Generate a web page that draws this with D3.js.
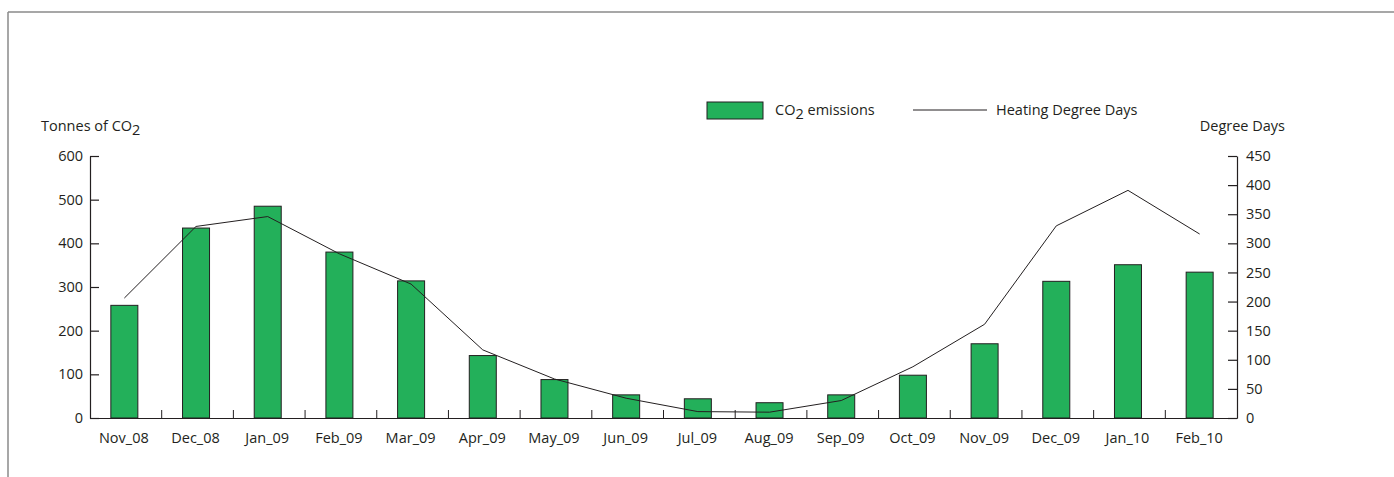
<!DOCTYPE html>
<html><head><meta charset="utf-8">
<script src="https://cdn.jsdelivr.net/npm/d3@7"></script>
<style>
html,body{margin:0;padding:0;background:#fff;}
svg text{font-family:"Open Sans",sans-serif;fill:#231f20;}
</style></head>
<body>
<svg id="chart" width="1394" height="477"></svg>
<script>
const categories = ["Nov_08","Dec_08","Jan_09","Feb_09","Mar_09","Apr_09","May_09","Jun_09","Jul_09","Aug_09","Sep_09","Oct_09","Nov_09","Dec_09","Jan_10","Feb_10"];
const co2Emissions = [258,435,485,380,314,143,88,53,44,35,53,98,170,313,351,334];
const degreeDays = [206,329,346,282,230,117,67,34,11,10,30,88,161,330,391,316];
const leftTicks = [0,100,200,300,400,500,600];
const rightTicks = [0,50,100,150,200,250,300,350,400,450];

(function(){
const svg = d3.select("#chart");
const ink = "#231f20";
const frame = "#8a8a8a";
const fs = 14.5;

// outer frame (top and left edges)
svg.append("line").attr("x1",8).attr("x2",1394).attr("y1",12).attr("y2",12).attr("stroke",frame).attr("stroke-width",1.5);
svg.append("line").attr("x1",8).attr("x2",8).attr("y1",12).attr("y2",477).attr("stroke",frame).attr("stroke-width",1.5);

const pL = 90, pR = 1237, pT = 156, pB = 418;
const x = d3.scaleBand().domain(categories).range([pL,pR]).paddingInner(0).paddingOuter(0);
const yL = d3.scaleLinear().domain([0,600]).range([pB,pT]);
const yR = d3.scaleLinear().domain([0,450]).range([pB,pT]);
const barW = 27;
const cx = d => x(d) + x.bandwidth()/2 - 1.5;

// bars
svg.append("g").selectAll("rect").data(categories).join("rect")
  .attr("x", d => cx(d) - barW/2)
  .attr("y", (d,i) => yL(co2Emissions[i]))
  .attr("width", barW)
  .attr("height", (d,i) => pB - yL(co2Emissions[i]))
  .attr("fill","#23b05a").attr("stroke",ink).attr("stroke-width",1);

// line
const line = d3.line().x(d => cx(d.c)).y(d => yR(d.v));
svg.append("path")
  .datum(categories.map((c,i)=>({c, v: degreeDays[i]})))
  .attr("d", line).attr("fill","none").attr("stroke",ink).attr("stroke-width",1);

// left axis
const gL = svg.append("g").attr("transform",`translate(${pL},0)`)
  .call(d3.axisLeft(yL).tickValues(leftTicks).tickSize(-9).tickPadding(7).tickSizeOuter(0));

// right axis
const gR = svg.append("g").attr("transform",`translate(${pR},0)`)
  .call(d3.axisRight(yR).tickValues(rightTicks).tickSize(-9).tickPadding(9).tickSizeOuter(0));

// bottom axis
const gB = svg.append("g").attr("transform",`translate(0,${pB})`)
  .call(d3.axisBottom(x).tickSize(0).tickPadding(14.5).tickSizeOuter(0));
gB.selectAll("text").attr("dx",-2);

// category boundary ticks pointing up
svg.append("g").selectAll("line").data(categories.slice(1)).join("line")
  .attr("x1", d => x(d)).attr("x2", d => x(d))
  .attr("y1", pB).attr("y2", pB - 8)
  .attr("stroke", ink).attr("stroke-width",1);

[gL,gR,gB].forEach(g => {
  g.attr("font-family","Open Sans").attr("font-size",fs);
  g.selectAll("text").attr("fill",ink);
  g.selectAll(".domain, .tick line").attr("stroke", ink).attr("stroke-width",1.2);
});

// axis titles
const tl = svg.append("text").attr("x",41).attr("y",131).attr("font-size",fs);
tl.append("tspan").text("Tonnes of CO");
tl.append("tspan").text("2").attr("dy",4);
svg.append("text").attr("x",1285).attr("y",131).attr("font-size",fs).attr("text-anchor","end").text("Degree Days");

// legend
svg.append("rect").attr("x",707).attr("y",102).attr("width",56).attr("height",17)
  .attr("fill","#23b05a").attr("stroke",ink).attr("stroke-width",1);
const lt = svg.append("text").attr("x",775).attr("y",115).attr("font-size",fs);
lt.append("tspan").text("CO");
lt.append("tspan").text("2").attr("dy",4);
lt.append("tspan").text(" emissions").attr("dy",-4);
svg.append("line").attr("x1",913).attr("x2",987).attr("y1",110).attr("y2",110).attr("stroke",ink).attr("stroke-width",1);
svg.append("text").attr("x",996).attr("y",115).attr("font-size",fs).text("Heating Degree Days");
})();
</script>
</body></html>
